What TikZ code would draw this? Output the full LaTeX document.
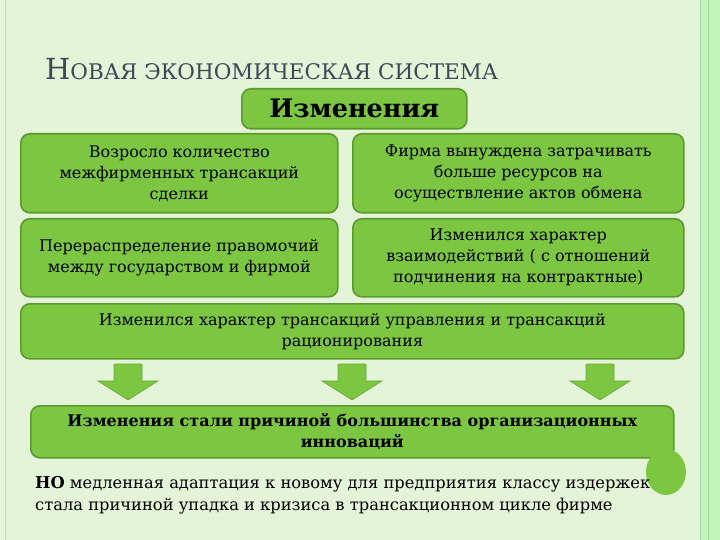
\documentclass[tikz,border=0pt]{standalone}
\usepackage{fontspec}
\setmainfont{DejaVu Serif}
\begin{document}
\begin{tikzpicture}[x=1pt,y=-1pt,
  box/.style={draw=boxline,line width=1.6pt,fill=boxfill,rounded corners=9pt,align=center,font=\fontsize{16}{21}\selectfont,inner sep=0pt,anchor=north west},
  arr/.style={fill=boxfill,draw=boxfill!85!black,line width=0.6pt}]
\definecolor{bg}{HTML}{E3F4D8}
\definecolor{boxfill}{HTML}{7DC642}
\definecolor{boxline}{HTML}{5C9A30}
\definecolor{titlec}{HTML}{3C4A58}
\useasboundingbox (0,0) rectangle (720,540);
\fill[bg] (0,0) rectangle (720,540);
\draw[green!30!gray!40,line width=1pt] (5,0) -- (5,540);
\fill[green!15!bg] (700,0) rectangle (720,540);
\draw[green!35!gray!50,line width=1pt] (700,0) -- (700,540) (708,0) -- (708,540);
\node[anchor=base west,text=titlec,inner sep=0pt] (title) at (45,80) {\fontsize{29}{30}\selectfont Н\fontsize{21.5}{22}\selectfont ОВАЯ ЭКОНОМИЧЕСКАЯ СИСТЕМА};
\node[box,minimum width=225pt,minimum height=40pt,font=\fontsize{25.5}{27}\selectfont\bfseries] (izm) at (241,88) {Изменения};
\node[box,minimum width=317pt,minimum height=79pt] (b1) at (20,133) {Возросло  количество\\межфирменных трансакций\\сделки};
\node[box,minimum width=331pt,minimum height=79pt] (b2) at (352,133) {Фирма вынуждена затрачивать\\больше ресурсов на\\осуществление актов обмена};
\node[box,minimum width=317pt,minimum height=78pt] (b3) at (20,218) {Перераспределение правомочий\\между государством  и фирмой};
\node[box,minimum width=331pt,minimum height=78pt] (b4) at (352,218) {Изменился характер\\взаимодействий ( с отношений\\подчинения на контрактные)};
\node[box,minimum width=663pt,minimum height=55pt] (b5) at (20,303) {Изменился характер трансакций управления и трансакций\\рационирования};
\node[box,minimum width=643pt,minimum height=52pt,font=\fontsize{16}{21}\selectfont\bfseries] (b6) at (30,405) {Изменения стали причиной большинства организационных\\инноваций};
\foreach \c in {128,352,600}{
  \draw[arr] (\c-14,364) -- (\c+14,364) -- (\c+14,381) -- (\c+30,381) -- (\c,400) -- (\c-30,381) -- (\c-14,381) -- cycle;
}
\fill[boxfill] (666,472) ellipse (20pt and 23pt);
\node[anchor=base west,inner sep=0pt,font=\fontsize{16.3}{17}\selectfont] (t1) at (35,488) {\textbf{НО} медленная адаптация к новому для предприятия классу издержек};
\node[anchor=base west,inner sep=0pt,font=\fontsize{16.3}{17}\selectfont] (t2) at (35,510) {стала причиной упадка и кризиса в трансакционном цикле фирме};
\end{tikzpicture}
\end{document}
